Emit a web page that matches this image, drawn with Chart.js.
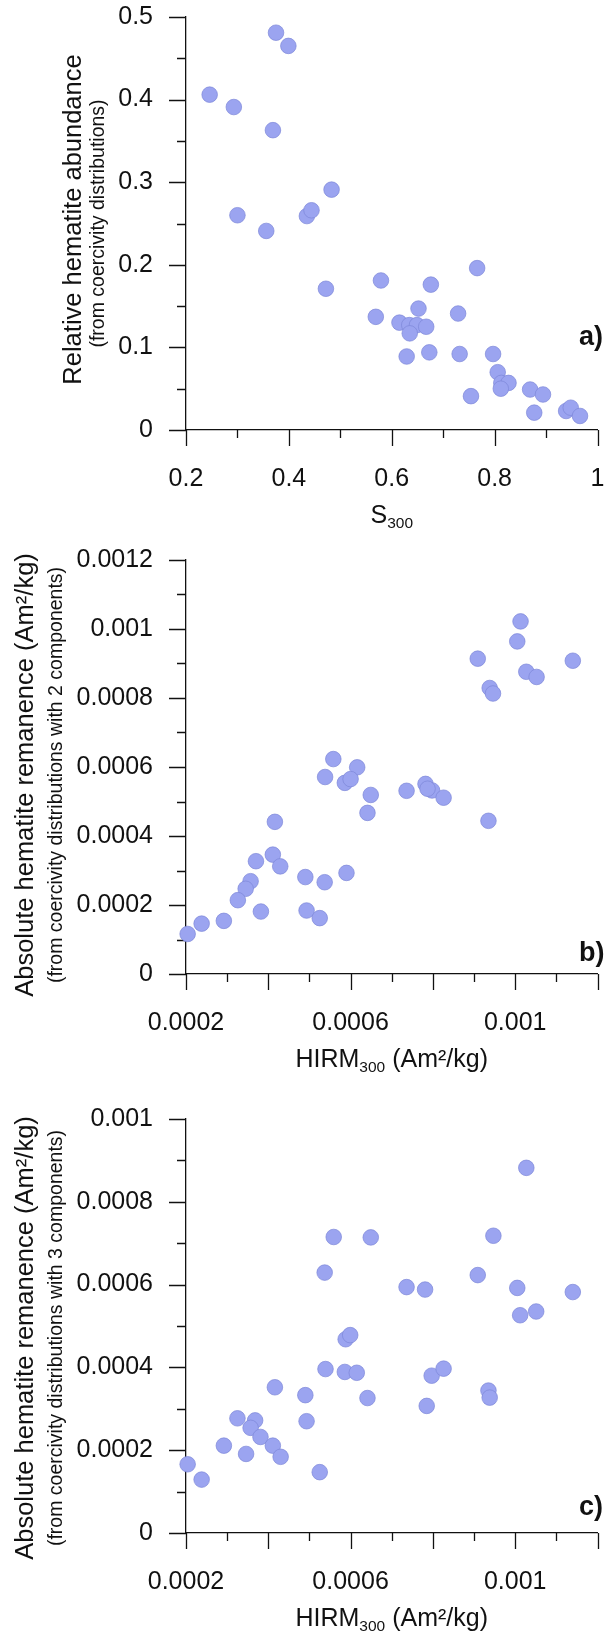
<!DOCTYPE html>
<html>
<head>
<meta charset="utf-8">
<script src="https://cdn.jsdelivr.net/npm/chart.js@4.4.1/dist/chart.umd.min.js"></script>
<style>
  html, body { margin: 0; padding: 0; background: #fff; }
  body { width: 606px; height: 1632px; position: relative; overflow: hidden; }
  .panel { position: absolute; left: 0; width: 606px; }
</style>
</head>
<body>
<div class="panel" style="top:0;height:545px"><canvas id="canA"></canvas></div>
<div class="panel" style="top:545px;height:555px"><canvas id="canB"></canvas></div>
<div class="panel" style="top:1100px;height:532px"><canvas id="canC"></canvas></div>
<script>
// a) S300 vs relative hematite abundance
const S300 = [0.375, 0.399, 0.246, 0.293, 0.369, 0.483, 0.300, 0.356, 0.435, 0.444,
  0.766, 0.579, 0.676, 0.472, 0.569, 0.615, 0.652, 0.634, 0.649, 0.667,
  0.635, 0.729, 0.629, 0.673, 0.732, 0.797, 0.806, 0.813, 0.827, 0.812,
  0.754, 0.869, 0.894, 0.877, 0.939, 0.948, 0.966]
const REL_ABUND = [0.481, 0.465, 0.406, 0.391, 0.363, 0.291, 0.260, 0.241, 0.259, 0.266,
  0.196, 0.181, 0.176, 0.171, 0.137, 0.130, 0.147, 0.127, 0.127, 0.125,
  0.117, 0.141, 0.089, 0.094, 0.092, 0.092, 0.070, 0.057, 0.057, 0.050,
  0.041, 0.049, 0.043, 0.021, 0.023, 0.027, 0.017]

// b) HIRM300 vs absolute hematite remanence, 2 components
const HIRM_B = [0.001013, 0.001005, 0.000909, 0.00114, 0.001027, 0.001052, 0.000938, 0.000946,
  0.000558, 0.000616, 0.000538, 0.000586, 0.0006, 0.000649, 0.000641, 0.000736,
  0.000782, 0.000798, 0.000787, 0.000826, 0.000935, 0.000416, 0.000411, 0.000429,
  0.00037, 0.00049, 0.000537, 0.00059, 0.000357, 0.000345, 0.000326, 0.000382,
  0.000493, 0.000525, 0.000292, 0.000238, 0.000204]
const ABS_REM_2 = [0.001022, 0.000964, 0.000914, 0.000908, 0.000876, 0.000861, 0.000829, 0.000813,
  0.000623, 0.000599, 0.000571, 0.000554, 0.000565, 0.000519, 0.000467, 0.000531,
  0.000551, 0.000532, 0.000537, 0.000511, 0.000444, 0.000441, 0.000346, 0.000312,
  0.000327, 0.000281, 0.000266, 0.000293, 0.000269, 0.000247, 0.000214, 0.000181,
  0.000184, 0.000162, 0.000154, 0.000146, 0.000116]

// c) HIRM300 vs absolute hematite remanence, 3 components
const HIRM_C = [0.001027, 0.000559, 0.000649, 0.000947, 0.000537, 0.000909, 0.000736, 0.000781,
  0.001005, 0.00114, 0.001012, 0.001051, 0.000588, 0.000599, 0.000539, 0.000586,
  0.000615, 0.000797, 0.000826, 0.000935, 0.000938, 0.000641, 0.000785, 0.000416,
  0.00049, 0.000493, 0.000325, 0.000368, 0.000357, 0.000381, 0.000292, 0.000411,
  0.000346, 0.00043, 0.000204, 0.000238, 0.000525]
const ABS_REM_3 = [0.000882, 0.000715, 0.000714, 0.000718, 0.000629, 0.000623, 0.000594, 0.000588,
  0.000592, 0.000582, 0.000526, 0.000535, 0.000468, 0.000478, 0.000396, 0.000389,
  0.000387, 0.00038, 0.000397, 0.000344, 0.000327, 0.000326, 0.000307, 0.000352,
  0.000333, 0.00027, 0.000277, 0.000272, 0.000254, 0.000232, 0.000211, 0.000211,
  0.000191, 0.000184, 0.000166, 0.000129, 0.000147]

// labelled tick values
const A_X_LABELS = [0.2, 0.4, 0.6, 0.8, 1]
const A_Y_LABELS = [0, 0.1, 0.2, 0.3, 0.4, 0.5]
const BC_X_LABELS = [0.0002, 0.0006, 0.001]
const B_Y_LABELS = [0, 0.0002, 0.0004, 0.0006, 0.0008, 0.001, 0.0012]
const C_Y_LABELS = [0, 0.0002, 0.0004, 0.0006, 0.0008, 0.001]

const FONT = '"Liberation Sans", Arial, Helvetica, sans-serif'
const INK = '#111'
Chart.defaults.font.family = FONT

function tickSteps (min, max, minor, major) {
  const out = []
  const n = Math.round((max - min) / minor)
  for (let i = 0; i <= n; i++) {
    const v = min + i * minor
    const k = (v - min) / major
    out.push({ v, major: Math.abs(k - Math.round(k)) < 1e-6 })
  }
  return out
}

function vText (ctx, text, x, y, size) {
  ctx.save()
  ctx.translate(x, y)
  ctx.rotate(-Math.PI / 2)
  ctx.font = size + 'px ' + FONT
  ctx.fillText(text, 0, 0)
  ctx.restore()
}

// tick marks (long/short) and the text around each plot
const frame = {
  id: 'frame',
  beforeDatasetsDraw (chart, args, o) {
    const { ctx, chartArea: a, scales: { x, y } } = chart
    ctx.save()
    ctx.strokeStyle = INK
    ctx.lineWidth = 1.3
    ctx.beginPath()
    tickSteps(o.xt[0], o.xt[1], o.xt[2], o.xt[3]).forEach(t => {
      const p = Math.round(x.getPixelForValue(t.v)) + 0.5
      ctx.moveTo(p, a.bottom)
      ctx.lineTo(p, a.bottom + (t.major ? 16 : 8))
    })
    tickSteps(o.yt[0], o.yt[1], o.yt[2], o.yt[3]).forEach(t => {
      const p = Math.round(y.getPixelForValue(t.v)) + 0.5
      ctx.moveTo(a.left, p)
      ctx.lineTo(a.left - (t.major ? 17 : 9), p)
    })
    ctx.stroke()
    ctx.restore()
  },
  afterDraw (chart, args, o) {
    const { ctx, chartArea: a } = chart
    const cy = (a.top + a.bottom) / 2
    ctx.save()
    ctx.fillStyle = INK
    ctx.textAlign = 'center'
    ctx.textBaseline = 'alphabetic'
    vText(ctx, o.yTitle[0], o.yTitle[1], cy + o.yTitle[2], o.yTitle[3])
    vText(ctx, o.ySub[0], o.ySub[1], cy + o.ySub[2], o.ySub[3])
    // x title with subscript
    let w = 0
    o.xTitle.forEach(pt => {
      ctx.font = pt[1] + 'px ' + FONT
      pt.w = ctx.measureText(pt[0]).width
      w += pt.w
    })
    let px = (a.left + a.right) / 2 - w / 2
    const base = a.bottom + 93
    ctx.textAlign = 'left'
    o.xTitle.forEach(pt => {
      ctx.font = pt[1] + 'px ' + FONT
      ctx.fillText(pt[0], px, base + pt[2])
      px += pt.w
    })
    // panel letter
    ctx.font = 'bold 27px ' + FONT
    ctx.fillText(o.tag, 579, a.bottom - o.tagUp)
    ctx.restore()
  }
}

function buildPanel (id, p) {
  const canvas = document.getElementById(id)
  const h = canvas.parentNode.clientHeight
  return new Chart(canvas, {
    type: 'scatter',
    data: {
      datasets: [{
        data: p.xs.map((x, i) => ({ x, y: p.ys[i] })),
        pointRadius: 7.8,
        pointHoverRadius: 7.8,
        backgroundColor: '#9ba4f0',
        borderColor: '#7c86d8',
        borderWidth: 0.7,
        clip: false
      }]
    },
    options: {
      responsive: true,
      maintainAspectRatio: false,
      animation: false,
      events: [],
      layout: { padding: { top: p.top, right: 7, left: 0, bottom: 0 } },
      plugins: {
        legend: { display: false },
        tooltip: { enabled: false },
        frame: p.frame
      },
      scales: {
        x: {
          type: 'linear',
          min: p.xt[0],
          max: p.xt[1],
          grid: { display: false, drawTicks: false },
          border: { display: true, color: INK, width: 1.3 },
          ticks: {
            padding: 34,
            color: INK,
            font: { size: 25 },
            autoSkip: false,
            maxRotation: 0,
            minRotation: 0,
            callback: v => String(+v.toFixed(4))
          },
          afterBuildTicks: s => { s.ticks = p.xLabels.map(v => ({ value: v })) },
          afterFit: s => {
            s.height = h - p.bottom
            s.paddingLeft = 0
            s.paddingRight = 0
          }
        },
        y: {
          type: 'linear',
          min: p.yt[0],
          max: p.yt[1],
          grid: { display: false, drawTicks: false },
          border: { display: true, color: INK, width: 1.3 },
          ticks: {
            padding: 33,
            color: INK,
            font: { size: 25 },
            autoSkip: false,
            callback: v => String(+v.toFixed(4))
          },
          afterBuildTicks: s => { s.ticks = p.yLabels.map(v => ({ value: v })) },
          afterFit: s => {
            s.width = 186
            s.paddingTop = 0
            s.paddingBottom = 0
          }
        }
      }
    },
    plugins: [frame]
  })
}

const A_XT = [0.2, 1, 0.1, 0.2]
const A_YT = [0, 0.5, 0.05, 0.1]
const BC_XT = [0.0002, 0.0012, 0.0001, 0.0002]
const B_YT = [0, 0.0012, 0.0001, 0.0002]
const C_YT = [0, 0.001, 0.0001, 0.0002]
const HIRM_TITLE = [['HIRM', 25, 0], ['300', 15.5, 5], [' (Am\u00B2/kg)', 25, 0]]

// [text, baseline x, shift from plot centre, font size]
buildPanel('canA', {
  xs: S300, ys: REL_ABUND, xLabels: A_X_LABELS, yLabels: A_Y_LABELS,
  xt: A_XT, yt: A_YT, top: 17, bottom: 430,
  frame: {
    xt: A_XT, yt: A_YT,
    yTitle: ['Relative hematite abundance', 81, -4, 25.5],
    ySub: ['(from coercivity distributions)', 104, 0, 19.5],
    xTitle: [['S', 25, 0], ['300', 15.5, 5]],
    tag: 'a)', tagUp: 85
  }
})

buildPanel('canB', {
  xs: HIRM_B, ys: ABS_REM_2, xLabels: BC_X_LABELS, yLabels: B_Y_LABELS,
  xt: BC_XT, yt: B_YT, top: 15, bottom: 429,
  frame: {
    xt: BC_XT, yt: B_YT,
    yTitle: ['Absolute hematite remanence (Am\u00B2/kg)', 33, 8, 25.5],
    ySub: ['(from coercivity distributions with 2 components)', 62, 8, 19.5],
    xTitle: HIRM_TITLE,
    tag: 'b)', tagUp: 13
  }
})

buildPanel('canC', {
  xs: HIRM_C, ys: ABS_REM_3, xLabels: BC_X_LABELS, yLabels: C_Y_LABELS,
  xt: BC_XT, yt: C_YT, top: 19, bottom: 433,
  frame: {
    xt: BC_XT, yt: C_YT,
    yTitle: ['Absolute hematite remanence (Am\u00B2/kg)', 33, 12, 25.5],
    ySub: ['(from coercivity distributions with 3 components)', 62, 12, 19.5],
    xTitle: HIRM_TITLE,
    tag: 'c)', tagUp: 18
  }
})
</script>
</body>
</html>
